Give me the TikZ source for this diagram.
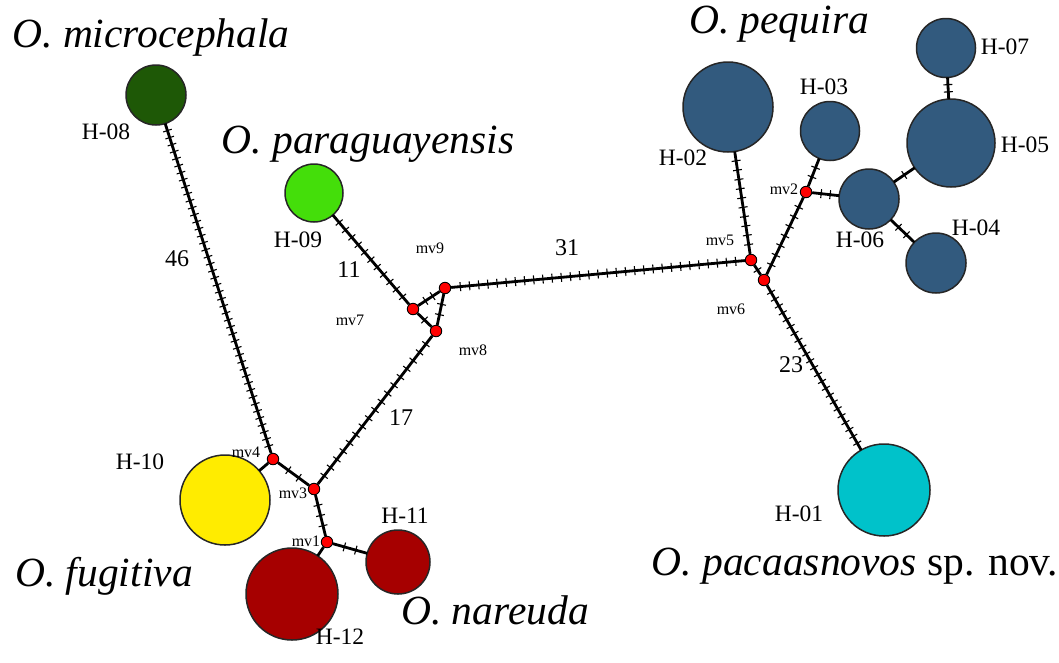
\documentclass[tikz,border=0pt]{standalone}
\usepackage{fontspec}
\setmainfont{Liberation Serif}
\usetikzlibrary{decorations.markings}

% mutation ticks: #1 evenly spaced cross marks along an edge
\tikzset{
  tick/.style={line width=1.1pt},
  mut/.code={%
    \pgfmathsetmacro\mstep{1/(#1+1)}%
    \pgfmathsetmacro\mend{#1/(#1+1)+0.0001}%
    \edef\mutdo{\noexpand\tikzset{postaction={decorate,decoration={markings,
      mark=between positions \mstep\space and \mend\space step \mstep\space with
      {\noexpand\draw[tick] (0,-4.5pt) -- (0,4.5pt);}}}}}%
    \mutdo},
}

\begin{document}
\begin{tikzpicture}[x=1pt,y=-1pt,
  hap/.style={circle, draw=black!85, line width=1.5pt, inner sep=0pt, outer sep=0pt, minimum size=#1},
  mvdot/.style={circle, draw=black, fill=red, line width=0.9pt, inner sep=0pt, minimum size=11.5pt},
  link/.style={line width=2.8pt, black},
  spname/.style={font=\fontsize{41.5}{44}\selectfont\itshape, anchor=base},
  hlab/.style={font=\fontsize{23.5}{26}\selectfont},
  mvlab/.style={font=\fontsize{16}{18}\selectfont},
  count/.style={font=\fontsize{24}{26}\selectfont},
]
\useasboundingbox (0,0) rectangle (1059,662);

\definecolor{darkgreen}{RGB}{30,88,6}
\definecolor{limegreen}{RGB}{68,222,10}
\definecolor{hapyellow}{RGB}{255,236,0}
\definecolor{hapred}{RGB}{166,0,0}
\definecolor{hapblue}{RGB}{50,90,126}
\definecolor{hapcyan}{RGB}{0,194,202}

% haplotypes
\node[hap=60pt, fill=darkgreen] (h08) at (156,95) {};
\node[hap=58pt, fill=limegreen] (h09) at (314,193) {};
\node[hap=90pt, fill=hapyellow] (h10) at (225,500) {};
\node[hap=64pt, fill=hapred]    (h11) at (398,562) {};
\node[hap=92pt, fill=hapred]    (h12) at (292,594) {};
\node[hap=90pt, fill=hapblue]   (h02) at (728,107) {};
\node[hap=59pt, fill=hapblue]   (h03) at (830,131) {};
\node[hap=88pt, fill=hapblue]   (h05) at (951,143) {};
\node[hap=59pt, fill=hapblue]   (h07) at (946,48) {};
\node[hap=60pt, fill=hapblue]   (h06) at (869,199) {};
\node[hap=60pt, fill=hapblue]   (h04) at (936,263) {};
\node[hap=92pt, fill=hapcyan]   (h01) at (884,490) {};

% median vectors
\node[mvdot] (mv1) at (327,542) {};
\node[mvdot] (mv2) at (806,192) {};
\node[mvdot] (mv3) at (314,489) {};
\node[mvdot] (mv4) at (273,459) {};
\node[mvdot] (mv5) at (751,260) {};
\node[mvdot] (mv6) at (764,280) {};
\node[mvdot] (mv7) at (413,309) {};
\node[mvdot] (mv8) at (436,331) {};
\node[mvdot] (mv9) at (445,288) {};

% connections with mutation steps
\draw[link, mut=46] (h08) -- (mv4);
\draw[link, mut=11] (h09) -- (mv7);
\draw[link, mut=2]  (mv7) -- (mv9);
\draw[link, mut=1]  (mv7) -- (mv8);
\draw[link, mut=2]  (mv9) -- (mv8);
\draw[link, mut=31] (mv9) -- (mv5);
\draw[link, mut=17] (mv8) -- (mv3);
\draw[link]         (mv4) -- (h10);
\draw[link, mut=2]  (mv4) -- (mv3);
\draw[link, mut=3]  (mv3) -- (mv1);
\draw[link, mut=2]  (mv1) -- (h11);
\draw[link]         (mv1) -- (h12);
\draw[link, mut=10] (mv5) -- (h02);
\draw[link, mut=1]  (mv5) -- (mv6);
\draw[link, mut=7]  (mv6) -- (mv2);
\draw[link, mut=23] (mv6) -- (h01);
\draw[link, mut=2]  (mv2) -- (h03);
\draw[link, mut=2]  (mv2) -- (h06);
\draw[link, mut=1]  (h06) -- (h05);
\draw[link, mut=2]  (h06) -- (h04);
\draw[link, mut=2]  (h05) -- (h07);

% haplotype labels
\node[hlab] (l08) at (106,132) {H-08};
\node[hlab] (l09) at (298,240) {H-09};
\node[hlab] (l10) at (140,462) {H-10};
\node[hlab] (l11) at (405,516) {H-11};
\node[hlab] (l12) at (340,637) {H-12};
\node[hlab] (l02) at (683,158) {H-02};
\node[hlab] (l03) at (824,87)  {H-03};
\node[hlab] (l05) at (1025,145) {H-05};
\node[hlab] (l07) at (1005,47) {H-07};
\node[hlab] (l06) at (860,240) {H-06};
\node[hlab] (l04) at (976,228) {H-04};
\node[hlab] (l01) at (799,514) {H-01};

% median vector labels
\node[mvlab] (t9) at (430,248) {mv9};
\node[mvlab] (t7) at (350,320) {mv7};
\node[mvlab] (t8) at (473,350) {mv8};
\node[mvlab] (t5) at (720,240) {mv5};
\node[mvlab] (t2) at (784,189) {mv2};
\node[mvlab] (t6) at (731,309) {mv6};
\node[mvlab] (t4) at (246,452) {mv4};
\node[mvlab] (t3) at (293,493) {mv3};
\node[mvlab] (t1) at (306,541) {mv1};

% mutation counts
\node[count] (c46) at (177,259) {46};
\node[count] (c31) at (567,248) {31};
\node[count] (c11) at (349,270) {11};
\node[count] (c17) at (401,418) {17};
\node[count] (c23) at (791,365) {23};

% species names
\node[spname] (s1) at (151,47)  {O. microcephala};
\node[spname] (s2) at (368,153) {O. paraguayensis};
\node[spname] (s3) at (779,33)  {O. pequira};
\node[spname] (s4) at (104,586) {O. fugitiva};
\node[spname] (s5) at (495,624) {O. nareuda};
\node[spname, font=\fontsize{41.5}{44}\selectfont] (s6) at (855,575) {\itshape O. pacaasnovos\upshape{} sp. nov.};
\end{tikzpicture}
\end{document}
